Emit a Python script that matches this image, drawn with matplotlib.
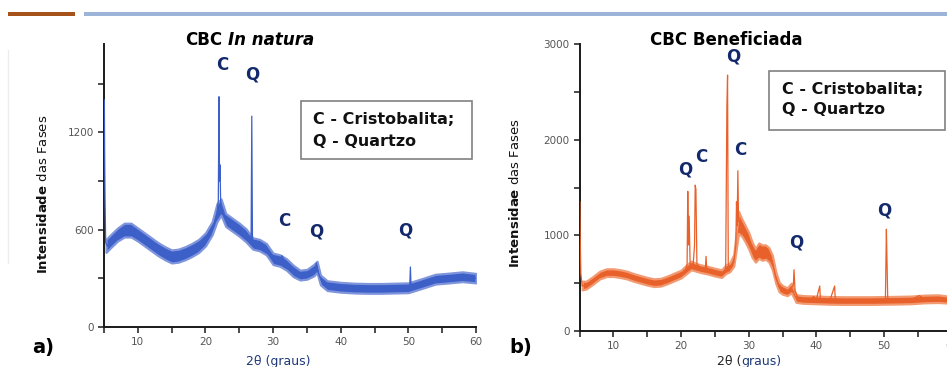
import matplotlib
matplotlib.use("Agg")
import matplotlib.pyplot as plt
from matplotlib.patches import Rectangle
from matplotlib.lines import Line2D

# ---------------- data ----------------
# panel a) CBC In natura : centre line (with peaks)
xa = [5.05, 5.1, 5.15, 5.25, 5.5, 6, 7, 8, 9, 10, 11, 12, 13, 14, 15, 16, 17, 18, 19, 20,
      20.8, 21.3, 21.7, 21.9, 22.0, 22.08, 22.15, 22.25, 22.5, 23, 24, 25, 26, 26.75, 26.85,
      26.95, 27.5, 28, 29, 30, 30.8, 31.3, 31.7, 32.5, 33.5, 34.5, 35.5, 36.2, 36.4, 36.7,
      37.2, 38, 40, 42, 45, 48, 50.2, 50.3, 50.4, 51, 52, 53, 55, 57, 58, 60]
ya = [1400, 1050, 800, 520, 500, 530, 570, 595, 595, 570, 540, 510, 480, 455, 435, 440, 455, 475, 500, 540,
      600, 640, 700, 780, 1420, 900, 1000, 760, 700, 660, 630, 600, 565, 545, 1300,
      540, 510, 505, 480, 420, 395, 440, 410, 375, 340, 320, 325, 350, 395, 330,
      280, 255, 245, 240, 238, 240, 245, 370, 250, 255, 268, 285, 300, 305, 310, 300]
# panel a) noise band
xa_band = [5.3, 6, 7, 8, 9, 10, 11, 12, 13, 14, 15, 16, 17, 18, 19, 20, 21, 21.7, 22.3, 23,
           24, 25, 26, 27, 28, 29, 30, 31, 32, 33, 34, 35, 36, 36.5, 37, 38, 40, 42, 44, 46,
           48, 50, 52, 54, 56, 58, 60]
ya_low = [460, 490, 530, 555, 555, 530, 500, 470, 440, 415, 395, 400, 415, 435, 460, 500, 570, 650, 690, 620,
          590, 560, 525, 480, 470, 445, 385, 375, 350, 310, 290, 295, 315, 335, 260, 225, 215, 210, 208, 208,
          210, 212, 238, 265, 272, 280, 272]
ya_high = [540, 570, 610, 640, 640, 610, 580, 550, 520, 495, 475, 480, 495, 515, 540, 580, 650, 760, 790, 700,
           670, 640, 605, 550, 540, 515, 455, 445, 420, 380, 350, 355, 385, 405, 320, 285, 275, 270, 268, 268,
           270, 272, 298, 325, 332, 340, 330]

# panel b) CBC Beneficiada : centre line (with peaks)
xb = [5.05, 5.1, 5.2, 5.4, 6, 7, 8, 9, 10, 11, 12, 13, 14, 15, 16, 17, 18, 19, 20, 20.7,
      20.9, 21.0, 21.1, 21.2, 21.35, 21.8, 22.0, 22.1, 22.2, 22.35, 23, 23.6, 23.7, 23.8,
      24.5, 25.5, 26.3, 26.6, 26.78, 26.88, 26.98, 27.3, 27.8, 28.1, 28.2, 28.3, 28.4, 28.5,
      29, 29.5, 30, 30.5, 31, 31.4, 31.8, 32.5, 33, 33.5, 34, 34.5, 35, 35.7, 36.3, 36.6,
      36.7, 36.85, 37.3, 38, 39, 39.6, 40, 40.5, 40.6, 42, 42.7, 42.8, 45, 48, 50.2, 50.35,
      50.45, 50.55, 52, 54, 55.2, 56, 58, 60]
yb = [1350, 1000, 600, 470, 480, 530, 585, 610, 610, 600, 585, 560, 540, 520, 505, 510, 535, 565, 595, 640,
      700, 1460, 900, 1200, 690, 700, 900, 1525, 1480, 700, 650, 650, 780, 650,
      630, 610, 600, 640, 2350, 2675, 700, 660, 720, 900, 1350, 1100, 1675, 1150,
      1080, 1020, 950, 850, 790, 870, 820, 830, 800, 720, 560, 460, 430, 410, 450, 480,
      640, 420, 340, 330, 325, 360, 330, 470, 330, 320, 470, 320, 315, 315, 320, 1063,
      700, 320, 320, 325, 370, 335, 335, 320]
# panel b) noise band
xb_band = [5.4, 6, 7, 8, 9, 10, 11, 12, 13, 14, 15, 16, 17, 18, 19, 20, 20.8, 21.5, 22.5, 23,
           24, 25, 26, 26.6, 27.2, 27.8, 28.5, 29, 29.5, 30, 30.5, 31, 31.5, 32, 32.5, 33,
           33.5, 34, 34.5, 35, 35.7, 36.3, 37, 38, 40, 42, 44, 46, 48, 50, 52, 54, 56, 58, 60]
yb_low = [430, 440, 490, 545, 570, 570, 560, 545, 520, 500, 480, 465, 470, 495, 525, 555, 600, 640, 620, 610,
          595, 575, 560, 600, 620, 680, 1020, 990, 930, 860, 770, 720, 760, 740, 750, 720,
          640, 500, 410, 385, 370, 400, 300, 290, 285, 280, 278, 278, 278, 280, 282, 285, 295, 298, 290]
yb_high = [520, 520, 570, 625, 650, 650, 640, 625, 600, 580, 560, 545, 550, 575, 605, 635, 690, 730, 700, 690,
           675, 655, 640, 690, 710, 800, 1250, 1170, 1100, 1030, 930, 860, 920, 900, 900, 870,
           790, 620, 510, 475, 450, 500, 380, 370, 365, 360, 358, 358, 358, 360, 362, 365, 375, 378, 360]

# peak annotations: (label, 2theta, intensity)
labels_a = [("C", 22.45, 1615), ("Q", 26.9, 1554), ("C", 31.6, 655), ("Q", 36.4, 588), ("Q", 49.5, 598)]
labels_b = [("Q", 27.72, 2866), ("Q", 20.6, 1690), ("C", 22.95, 1821), ("C", 28.8, 1891),
            ("Q", 37.0, 927), ("Q", 50.1, 1257)]

legend_lines = ["C - Cristobalita;", "Q - Quartzo"]

# ---------------- styling ----------------
W, H = 947, 367
fig = plt.figure(figsize=(W / 100, H / 100), dpi=100)
fig.patch.set_facecolor("white")

BLUE = "#3d5fc8"
BLUE_L = "#7f95dc"
ORANGE = "#e8602a"
ORANGE_L = "#f29a72"
NAVY = "#13296b"
TICKC = "#555555"


def fx(px):
    return px / W


def fy(py):
    return 1 - py / H


# header bars
fig.add_artist(Rectangle((fx(8), fy(16)), fx(75) - fx(8), (16 - 12) / H,
                         transform=fig.transFigure, color="#a5521b", lw=0))
fig.add_artist(Rectangle((fx(84), fy(16)), 1 - fx(84), (16 - 12) / H,
                         transform=fig.transFigure, color="#9cb4d8", lw=0))
# faint vertical slide line
fig.add_artist(Line2D([fx(8), fx(8)], [fy(50), fy(263)], transform=fig.transFigure,
                      color="#ececec", lw=1))


def style_axes(ax, ymax, ymajor, yminor):
    ax.set_xlim(5, 60)
    ax.set_ylim(0, ymax)
    for s in ["top", "right"]:
        ax.spines[s].set_visible(False)
    for s in ["left", "bottom"]:
        ax.spines[s].set_linewidth(1.4)
        ax.spines[s].set_color("#1a1a1a")
        ax.spines[s].set_zorder(1)
    ax.set_xticks([10, 20, 30, 40, 50, 60])
    ax.set_xticks([5, 15, 25, 35, 45, 55], minor=True)
    ax.set_yticks(ymajor)
    ax.set_yticks(yminor, minor=True)
    ax.tick_params(axis="both", which="both", direction="out", length=4, width=1.1,
                   color="#1a1a1a", labelsize=7.5, labelcolor=TICKC, pad=3)
    ax.set_facecolor("none")


# panel a
axa = fig.add_axes([fx(104), fy(327), fx(476) - fx(104), (327 - 44) / H])
style_axes(axa, 1745, [0, 600, 1200], [300, 900, 1500])
axa.fill_between(xa_band, ya_low, ya_high, facecolor=BLUE, edgecolor=BLUE_L, lw=1.6, zorder=2)
axa.plot(xa, ya, color=BLUE, lw=0.9, zorder=3)
for t, x, y in labels_a:
    axa.text(x, y, t, ha="center", va="center", color=NAVY, fontsize=12, fontweight="bold")

# panel b
axb = fig.add_axes([fx(579.5), fy(331), fx(951.7) - fx(579.5), (331 - 44) / H])
style_axes(axb, 3000, [0, 1000, 2000, 3000], [500, 1500, 2500])
axb.fill_between(xb_band, yb_low, yb_high, facecolor=ORANGE, edgecolor=ORANGE_L, lw=1.6, zorder=2)
axb.plot(xb, yb, color=ORANGE, lw=0.9, zorder=3)
for t, x, y in labels_b:
    axb.text(x, y, t, ha="center", va="center", color=NAVY, fontsize=12, fontweight="bold")

# y labels
fig.text(fx(43), fy(194), r"$\mathbf{Intensidade}$ das Fases", rotation=90,
         ha="center", va="center", fontsize=9.5, color="#111111")
fig.text(fx(515), fy(193), r"$\mathbf{Intensidae}$ das Fases", rotation=90,
         ha="center", va="center", fontsize=9.5, color="#111111")

# x labels
fig.text(fx(278), fy(361), "2θ (graus)", ha="center", va="center", fontsize=9, color="#1f3a7a")
t1 = fig.text(fx(717), fy(361), "2θ (", ha="left", va="center", fontsize=9, color="#222222")
fig.add_artist(matplotlib.text.Annotation("graus)", xy=(1, 0.5), xycoords=t1, xytext=(0, 0),
                                          textcoords="offset points", ha="left", va="center",
                                          fontsize=9, color="#1f3a7a"))

# panel letters
fig.text(fx(43), fy(347), "a)", ha="center", va="center", fontsize=14, fontweight="bold")
fig.text(fx(521), fy(348), "b)", ha="center", va="center", fontsize=14, fontweight="bold")

# titles
ta = fig.text(fx(185), fy(40), "CBC", ha="left", va="center", fontsize=12, fontweight="bold")
fig.add_artist(matplotlib.text.Annotation("In natura", xy=(1, 0.5), xycoords=ta, xytext=(4, 0),
                                          textcoords="offset points", ha="left", va="center",
                                          fontsize=12, fontweight="bold", fontstyle="italic"))
fig.text(fx(726), fy(40), "CBC Beneficiada", ha="center", va="center", fontsize=12, fontweight="bold")

# legend boxes
for (x0, y0, x1, y1, tx, ty1, ty2) in [(301, 101, 472, 159, 313, 120, 141),
                                       (769, 71, 945, 130, 782, 89, 110)]:
    fig.add_artist(Rectangle((fx(x0), fy(y1)), fx(x1) - fx(x0), (y1 - y0) / H,
                             transform=fig.transFigure, facecolor="white",
                             edgecolor="#808080", lw=1.2))
    fig.text(fx(tx), fy(ty1), legend_lines[0], ha="left", va="center", fontsize=11.5,
             fontweight="bold", color="#111111")
    fig.text(fx(tx), fy(ty2), legend_lines[1], ha="left", va="center", fontsize=11.5,
             fontweight="bold", color="#111111")

fig.savefig("out.png", dpi=100, facecolor="white")
